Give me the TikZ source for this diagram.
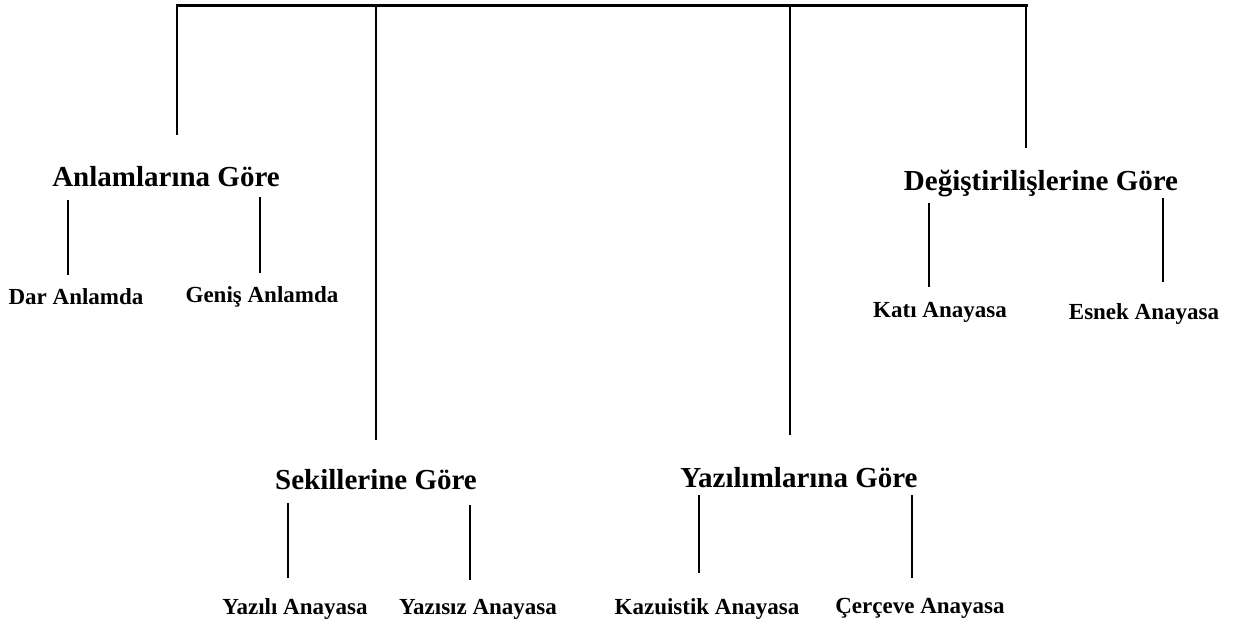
\documentclass[tikz,border=0pt]{standalone}
\usepackage{fontspec}
\setmainfont{Liberation Serif}
\tikzset{
  head/.style={font=\bfseries\fontsize{29}{32}\selectfont, inner sep=0pt},
  leaf/.style={font=\bfseries\fontsize{23}{26}\selectfont, inner sep=0pt},
  bar/.style={line width=3pt, line cap=rect},
  link/.style={line width=2.6pt}
}
\begin{document}
\begin{tikzpicture}[x=1pt,y=-1pt]
\useasboundingbox[fill=white] (0,0) rectangle (1242,630);
% top bar coordinates
\coordinate (tA) at (177,5);
\coordinate (tS) at (376,5);
\coordinate (tY) at (790,5);
\coordinate (tD) at (1026,5);
\draw[bar] (tA) -- (tS) -- (tY) -- (tD);
% headings
\node[head] (anl) at (166,177) {Anlamlarına Göre};
\node[head] (sek) at (376,480) {Sekillerine Göre};
\node[head] (yaz) at (799,478) {Yazılımlarına Göre};
\node[head] (deg) at (1041,183) {Değiştirilişlerine Göre};
% ends of the main verticals
\coordinate (eA) at (177,135);
\coordinate (eS) at (376,440);
\coordinate (eY) at (790,435);
\coordinate (eD) at (1026,148);
\draw[link] (tA) -- (eA);
\draw[link] (tS) -- (eS);
\draw[link] (tY) -- (eY);
\draw[link] (tD) -- (eD);
% leaves
\node[leaf] (dar) at (76,297) {Dar Anlamda};
\node[leaf] (gen) at (262,297) {Geniş Anlamda};
\node[leaf] (kat) at (940,312) {Katı Anayasa};
\node[leaf] (esn) at (1144,314) {Esnek Anayasa};
\node[leaf] (yzl) at (295,609) {Yazılı Anayasa};
\node[leaf] (yzs) at (478,609) {Yazısız Anayasa};
\node[leaf] (kaz) at (707,609) {Kazuistik Anayasa};
\node[leaf] (cer) at (920,608) {Çerçeve Anayasa};
% sub-links
\coordinate (a1) at (68,200);  \coordinate (a2) at (68,275);
\coordinate (b1) at (260,197); \coordinate (b2) at (260,273);
\coordinate (c1) at (929,203); \coordinate (c2) at (929,287);
\coordinate (d1) at (1163,198);\coordinate (d2) at (1163,282);
\coordinate (e1) at (288,503); \coordinate (e2) at (288,578);
\coordinate (f1) at (470,505); \coordinate (f2) at (470,580);
\coordinate (g1) at (699,495); \coordinate (g2) at (699,573);
\coordinate (h1) at (912,495); \coordinate (h2) at (912,578);
\draw[link] (a1) -- (a2);
\draw[link] (b1) -- (b2);
\draw[link] (c1) -- (c2);
\draw[link] (d1) -- (d2);
\draw[link] (e1) -- (e2);
\draw[link] (f1) -- (f2);
\draw[link] (g1) -- (g2);
\draw[link] (h1) -- (h2);
\end{tikzpicture}
\end{document}
